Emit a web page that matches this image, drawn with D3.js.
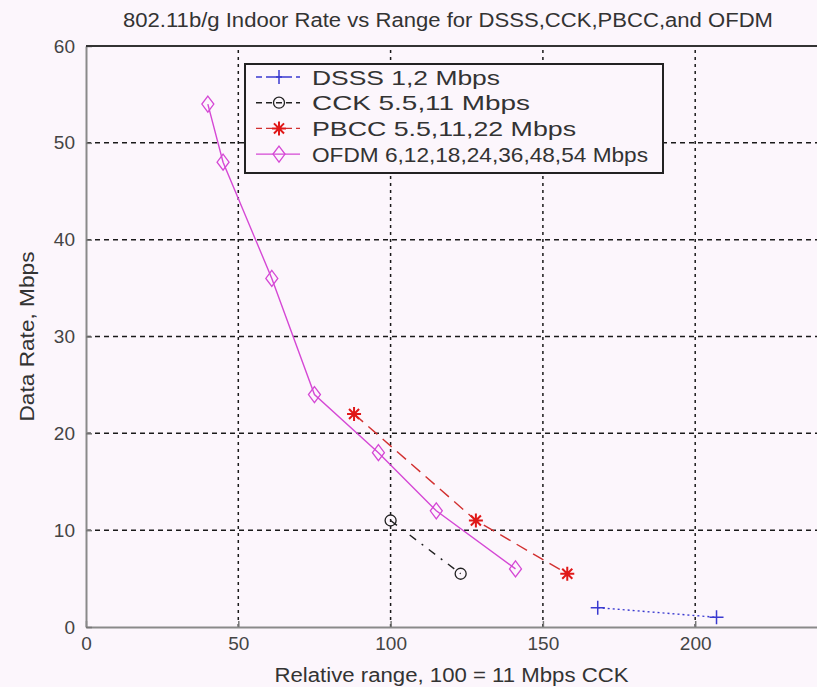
<!DOCTYPE html>
<html>
<head>
<meta charset="utf-8">
<script src="https://cdn.jsdelivr.net/npm/d3@7"></script>
<style>
  html, body { margin: 0; padding: 0; background: #fcf6fc; }
  svg { display: block; }
  text { font-family: "Liberation Sans", Arial, sans-serif; }
</style>
</head>
<body>
<svg id="chart" width="817" height="687"></svg>
<script>
// Relative range (x) and data rate in Mbps (y) for each modulation
const dsssRange = [168, 207];
const dsssRate  = [2, 1];
const cckRange  = [100, 123];
const cckRate   = [11, 5.5];
const pbccRange = [88, 128, 158];
const pbccRate  = [22, 11, 5.5];
const ofdmRange = [40, 45, 61, 75, 96, 115, 141];
const ofdmRate  = [54, 48, 36, 24, 18, 12, 6];

const seriesNames = [
  "DSSS 1,2 Mbps",
  "CCK 5.5,11 Mbps",
  "PBCC 5.5,11,22 Mbps",
  "OFDM 6,12,18,24,36,48,54 Mbps"
];
const xTicks = [0, 50, 100, 150, 200];
const yTicks = [0, 10, 20, 30, 40, 50, 60];

const titleText = "802.11b/g Indoor Rate vs Range for DSSS,CCK,PBCC,and OFDM";
const xLabel = "Relative range, 100 = 11 Mbps CCK";
const yLabel = "Data Rate, Mbps";

(function () {
const svg = d3.select("#chart");
const plotLeft = 86, plotTop = 46, plotBottom = 627;
const axisCenterX = (plotLeft + 817) / 2;

const x = d3.scaleLinear().domain([0, 250]).range([plotLeft, plotLeft + 250 * 3.046]);
const y = d3.scaleLinear().domain([0, 60]).range([plotBottom, plotTop]);

const series = [
  { name: seriesNames[0], xs: dsssRange, ys: dsssRate, color: "#3a3ad0", dash: "2,3", marker: "plus" },
  { name: seriesNames[1], xs: cckRange,  ys: cckRate,  color: "#222222", dash: "8,7,2,7", marker: "circle" },
  { name: seriesNames[2], xs: pbccRange, ys: pbccRate, color: "#d23030", dash: "12,7", marker: "star" },
  { name: seriesNames[3], xs: ofdmRange, ys: ofdmRate, color: "#d548d5", dash: null, marker: "diamond" }
];

// grid
const grid = svg.append("g");
grid.selectAll("line.vx").data(xTicks.filter(d => d > 0)).enter().append("line")
  .attr("x1", d => x(d)).attr("x2", d => x(d)).attr("y1", y(0)).attr("y2", y(60))
  .attr("stroke", "#1a1a1a").attr("stroke-width", 1.5).attr("stroke-dasharray", "3,4");
grid.selectAll("line.hy").data(yTicks.filter(d => d > 0 && d < 60)).enter().append("line")
  .attr("x1", x(0)).attr("x2", 817).attr("y1", d => y(d)).attr("y2", d => y(d))
  .attr("stroke", "#1a1a1a").attr("stroke-width", 1.5).attr("stroke-dasharray", "5,4");

// axes
const xAxis = d3.axisBottom(x).tickValues(xTicks).tickSizeInner(-6).tickSizeOuter(0).tickPadding(10);
const gx = svg.append("g").attr("transform", `translate(0,${plotBottom})`).call(xAxis);
gx.select(".domain").attr("stroke", "#8a8a8a").attr("stroke-width", 2);
gx.selectAll(".tick line").attr("stroke", "#777").attr("stroke-width", 1.5);
gx.selectAll("text").attr("font-size", 19).attr("fill", "#444").attr("dy", "0.71em");

const yAxis = d3.axisLeft(y).tickValues(yTicks).tickSizeInner(-6).tickSizeOuter(0).tickPadding(11);
const gy = svg.append("g").attr("transform", `translate(${plotLeft},0)`).call(yAxis);
gy.select(".domain").attr("stroke", "#8a8a8a").attr("stroke-width", 2);
gy.selectAll(".tick line").attr("stroke", "#777").attr("stroke-width", 1.5);
gy.selectAll("text").attr("font-size", 19).attr("fill", "#444");

// top border
svg.append("line").attr("x1", plotLeft).attr("x2", 817).attr("y1", plotTop).attr("y2", plotTop)
  .attr("stroke", "#333").attr("stroke-width", 2);

// markers
function drawMarker(g, type, cx, cy, color) {
  if (type === "plus") {
    g.append("path").attr("d", `M${cx-7},${cy}H${cx+7}M${cx},${cy-7}V${cy+7}`)
      .attr("stroke", color).attr("stroke-width", 1.5).attr("fill", "none");
  } else if (type === "circle") {
    g.append("circle").attr("cx", cx).attr("cy", cy).attr("r", 5.5)
      .attr("stroke", color).attr("stroke-width", 1.3).attr("fill", "none");
  } else if (type === "star") {
    const r = 7;
    let d = `M${cx-r},${cy}H${cx+r}M${cx},${cy-r}V${cy+r}`;
    const k = r * 0.72;
    d += `M${cx-k},${cy-k}L${cx+k},${cy+k}M${cx-k},${cy+k}L${cx+k},${cy-k}`;
    g.append("path").attr("d", d).attr("stroke", "#e01818").attr("stroke-width", 2).attr("fill", "none");
  } else if (type === "diamond") {
    g.append("path").attr("d", `M${cx},${cy-8}L${cx+6},${cy}L${cx},${cy+8}L${cx-6},${cy}Z`)
      .attr("stroke", color).attr("stroke-width", 1.3).attr("fill", "none");
  }
}

const line = d3.line().x(d => x(d[0])).y(d => y(d[1]));
series.forEach(s => {
  const pts = s.xs.map((v, i) => [v, s.ys[i]]);
  const g = svg.append("g");
  g.append("path").attr("d", line(pts)).attr("fill", "none")
    .attr("stroke", s.color).attr("stroke-width", 1.4)
    .attr("stroke-dasharray", s.dash);
  pts.forEach(p => drawMarker(g, s.marker, x(p[0]), y(p[1]), s.color));
});

// legend
const legendTextLen = [188, 218, 264, 336];
const lg = svg.append("g");
lg.append("rect").attr("x", 245).attr("y", 64).attr("width", 418).attr("height", 109)
  .attr("fill", "#fcf6fc").attr("stroke", "#222").attr("stroke-width", 2);
series.forEach((s, i) => {
  const cy = 77 + i * 25.7;
  lg.append("line").attr("x1", 256).attr("x2", 300).attr("y1", cy).attr("y2", cy)
    .attr("stroke", s.color).attr("stroke-width", 1.4).attr("stroke-dasharray", s.dash ? "6,4" : null);
  drawMarker(lg, s.marker, 279, cy, s.color);
  lg.append("text").attr("x", 312).attr("y", cy).attr("dy", "0.36em")
    .attr("font-size", 21).attr("fill", "#333")
    .attr("textLength", legendTextLen[i]).attr("lengthAdjust", "spacingAndGlyphs")
    .text(s.name);
});

// titles
svg.append("text").attr("x", 448).attr("y", 27).attr("text-anchor", "middle")
  .attr("font-size", 20).attr("fill", "#333")
  .attr("textLength", 650).attr("lengthAdjust", "spacingAndGlyphs").text(titleText);
svg.append("text").attr("x", axisCenterX).attr("y", 682).attr("text-anchor", "middle")
  .attr("font-size", 20).attr("fill", "#333")
  .attr("textLength", 354).attr("lengthAdjust", "spacingAndGlyphs").text(xLabel);
svg.append("text").attr("transform", `translate(34,${(plotTop + plotBottom) / 2}) rotate(-90)`)
  .attr("text-anchor", "middle").attr("font-size", 20).attr("fill", "#333")
  .attr("textLength", 170).attr("lengthAdjust", "spacingAndGlyphs").text(yLabel);
})();
</script>
</body>
</html>
